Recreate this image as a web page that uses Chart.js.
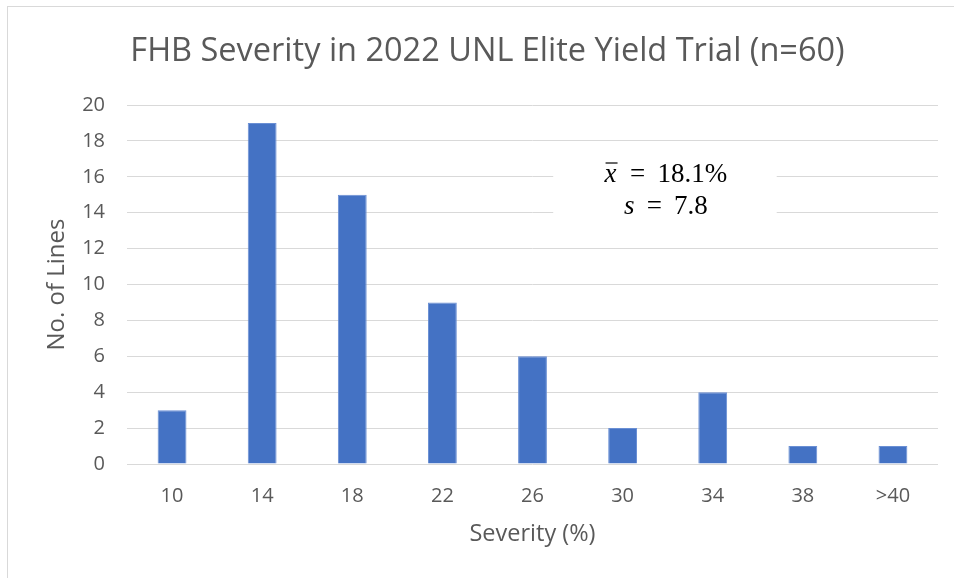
<!DOCTYPE html>
<html>
<head>
<meta charset="utf-8">
<script src="https://cdn.jsdelivr.net/npm/chart.js@4"></script>
<style>
    html, body { margin: 0; padding: 0; background: #ffffff; }
    #wrap { width: 954px; height: 578px; }
</style>
</head>
<body>
<div id="wrap"><canvas id="fhbChart" width="954" height="578"></canvas></div>
<script>
// Chart data
const severityBins = ['10', '14', '18', '22', '26', '30', '34', '38', '>40'];
const lineCounts = [3, 19, 15, 9, 6, 2, 4, 1, 1];
const yTicks = [0, 2, 4, 6, 8, 10, 12, 14, 16, 18, 20];
const statMean = ['x', '  =\u2009 18.1%'];
const statSd = ['s', '\u2009 =\u2009 7.8'];

const TEXT_COLOR = '#595959';
const GRID_COLOR = '#d9d9d9';
const BAR_COLOR = '#4472c4';
const SANS = "'Open Sans', 'Noto Sans', sans-serif";
const SERIF = "'Liberation Serif', 'DejaVu Serif', serif";

// Outer chart frame, like the Excel chart border
const framePlugin = {
    id: 'frame',
    beforeDraw(chart) {
        const ctx = chart.ctx;
        ctx.save();
        ctx.fillStyle = '#ffffff';
        ctx.fillRect(0, 0, chart.width, chart.height);
        ctx.strokeStyle = GRID_COLOR;
        ctx.lineWidth = 1;
        ctx.strokeRect(7.5, 6.5, chart.width + 20, chart.height + 20);
        ctx.restore();
    }
};

// Text box with mean and standard deviation
const statsPlugin = {
    id: 'stats',
    afterDraw(chart) {
        const ctx = chart.ctx;
        const x = chart.scales.x;
        const y = chart.scales.y;
        const left = x.getPixelForValue(4.23);
        const right = x.getPixelForValue(6.71);
        const top = y.getPixelForValue(17.0);
        const bottom = y.getPixelForValue(13.1);

        ctx.save();
        ctx.fillStyle = '#ffffff';
        ctx.fillRect(left, top, right - left, bottom - top);

        const cx = x.getPixelForValue(5.48);
        const rows = [
            { y: y.getPixelForValue(16.1), parts: statMean, bar: true },
            { y: y.getPixelForValue(14.3), parts: statSd, bar: false }
        ];
        const italic = 'italic 27px ' + SERIF;
        const plain = '27px ' + SERIF;
        ctx.fillStyle = '#000000';
        ctx.strokeStyle = '#000000';
        ctx.textBaseline = 'middle';
        ctx.textAlign = 'left';
        rows.forEach(row => {
            ctx.font = italic;
            const w1 = ctx.measureText(row.parts[0]).width;
            ctx.font = plain;
            const w2 = ctx.measureText(row.parts[1]).width;
            const px = cx - (w1 + w2) / 2;
            ctx.font = italic;
            ctx.fillText(row.parts[0], px, row.y);
            if (row.bar) {
                // overbar of the mean symbol
                ctx.lineWidth = 1.2;
                ctx.beginPath();
                ctx.moveTo(px + 1, row.y - 12);
                ctx.lineTo(px + w1 + 1, row.y - 12);
                ctx.stroke();
            }
            ctx.font = plain;
            ctx.fillText(row.parts[1], px + w1, row.y);
        });
        ctx.restore();
    }
};

const ctx = document.getElementById('fhbChart').getContext('2d');
const chart = new Chart(ctx, {
    type: 'bar',
    data: {
        labels: severityBins,
        datasets: [{
            label: 'No. of Lines',
            data: lineCounts,
            backgroundColor: BAR_COLOR,
            borderColor: '#6a8fd4',
            borderWidth: 1,
            barPercentage: 0.32,
            categoryPercentage: 1
        }]
    },
    options: {
        responsive: false,
        animation: false,
        layout: {
            padding: { left: 37, right: 16, top: 0, bottom: 0 }
        },
        plugins: {
            legend: { display: false },
            tooltip: { enabled: false },
            title: {
                display: true,
                text: 'FHB Severity in 2022 UNL Elite Yield Trial (n=60)',
                color: TEXT_COLOR,
                font: { family: SANS, size: 32.5, weight: 'normal', lineHeight: 1.2 },
                padding: { top: 32, bottom: 34 }
            }
        },
        scales: {
            x: {
                grid: { display: false, drawTicks: false },
                border: { display: false },
                ticks: {
                    color: TEXT_COLOR,
                    font: { family: SANS, size: 20 },
                    padding: 20,
                    maxRotation: 0
                },
                title: {
                    display: true,
                    text: 'Severity (%)',
                    color: TEXT_COLOR,
                    font: { family: SANS, size: 23.5 },
                    padding: { top: 0, bottom: 30 }
                },
                afterFit(scale) { scale.height = 114; }
            },
            y: {
                min: yTicks[0],
                max: yTicks[yTicks.length - 1],
                afterBuildTicks(scale) {
                    scale.ticks = yTicks.map(v => ({ value: v }));
                },
                grid: { color: GRID_COLOR, lineWidth: 1, drawTicks: false },
                border: { display: false },
                ticks: {
                    color: TEXT_COLOR,
                    font: { family: SANS, size: 20 },
                    padding: 22
                },
                title: {
                    display: true,
                    text: 'No. of Lines',
                    color: TEXT_COLOR,
                    font: { family: SANS, size: 24 },
                    padding: { top: 6, bottom: 0 }
                },
                afterFit(scale) { scale.width = 90; }
            }
        }
    },
    plugins: [framePlugin, statsPlugin]
});
</script>
</body>
</html>
